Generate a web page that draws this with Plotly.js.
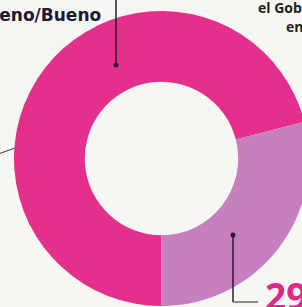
<!DOCTYPE html>
<html>
<head>
<meta charset="utf-8">
<script src="https://cdn.plot.ly/plotly-3.0.1.min.js"></script>
<style>
html,body{margin:0;padding:0;overflow:hidden;background:#f6f6f2;width:302px;height:307px;position:relative;}
#chart{position:absolute;left:-60px;top:-20px;width:440px;height:360px;}
</style>
</head>
<body>
<div id="chart"></div>
<script>
const categories = ["Muy bueno/Bueno", "Malo/Muy malo"];
const values = [71, 29];
const sliceColors = ["#e42f8d", "#c67fbf"];
const bigLabel = "29";

const W = 440, H = 360, OX = 60, OY = 20;
const px = x => (x + OX) / W;
const py = y => 1 - (y + OY) / H;

const data = [{
  type: "pie",
  labels: categories,
  values: values,
  hole: 0.52,
  sort: false,
  direction: "clockwise",
  rotation: 180,
  textinfo: "none",
  hoverinfo: "none",
  marker: {colors: sliceColors, line: {width: 0}},
  domain: {x: [px(14), px(309)], y: [py(306), py(11)]},
  showlegend: false
}];

const lineCol = "#2a1a2e";
const layout = {
  width: W, height: H,
  margin: {l: 0, r: 0, t: 0, b: 0},
  paper_bgcolor: "#f6f6f2",
  plot_bgcolor: "#f6f6f2",
  showlegend: false,
  shapes: [
    {type: "line", xref: "paper", yref: "paper", x0: px(116), x1: px(116), y0: py(-2), y1: py(65), line: {color: lineCol, width: 1.5}},
    {type: "circle", xref: "paper", yref: "paper", x0: px(113.5), x1: px(118.5), y0: py(62.5), y1: py(67.5), fillcolor: lineCol, line: {width: 0}},
    {type: "line", xref: "paper", yref: "paper", x0: px(-2), x1: px(15), y0: py(154), y1: py(148), line: {color: "#555", width: 1.2}},
    {type: "line", xref: "paper", yref: "paper", x0: px(233), x1: px(233), y0: py(235), y1: py(302), line: {color: lineCol, width: 1.5}},
    {type: "line", xref: "paper", yref: "paper", x0: px(233), x1: px(258), y0: py(302), y1: py(302), line: {color: "#6a6a6a", width: 1.5}},
    {type: "circle", xref: "paper", yref: "paper", x0: px(230.5), x1: px(235.5), y0: py(232.5), y1: py(237.5), fillcolor: lineCol, line: {width: 0}}
  ],
  annotations: [
    {xref: "paper", yref: "paper", x: px(103), y: py(14.5), xanchor: "right", yanchor: "middle", showarrow: false,
     text: "<b>Muy bueno/Bueno</b>", font: {family: "DejaVu Sans, sans-serif", size: 17, color: "#1a1a38"}},
    {xref: "paper", yref: "paper", x: px(256), y: py(8), xanchor: "left", yanchor: "middle", showarrow: false,
     text: "<b>el Gobierno</b>", font: {family: "Open Sans, sans-serif", size: 14, color: "#222"}},
    {xref: "paper", yref: "paper", x: px(284), y: py(27), xanchor: "left", yanchor: "middle", showarrow: false,
     text: "<b>en</b>", font: {family: "Open Sans, sans-serif", size: 14, color: "#222"}},
    {xref: "paper", yref: "paper", x: px(263), y: py(268), xanchor: "left", yanchor: "top", showarrow: false,
     text: "<b>" + bigLabel + "</b>", font: {family: "Open Sans, sans-serif", size: 37, color: "#e0288a"}}
  ]
};

Plotly.newPlot("chart", data, layout, {staticPlot: true, displayModeBar: false});
</script>
</body>
</html>
